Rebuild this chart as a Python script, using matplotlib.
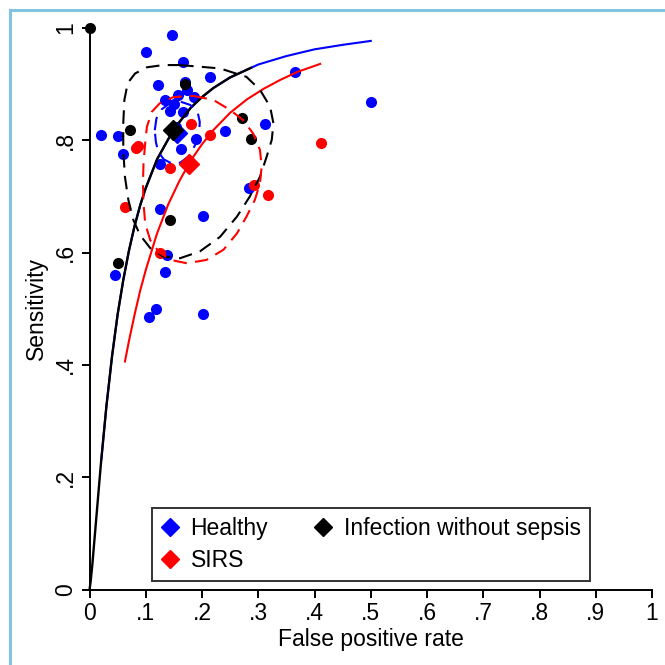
"""
SROC plot: sensitivity vs false positive rate for three groups
"""

import matplotlib
matplotlib.use("Agg")
import matplotlib.pyplot as plt
from matplotlib.lines import Line2D

plt.rcParams['font.family'] = ['Liberation Sans', 'DejaVu Sans']

# study estimates
healthy_fpr = [0.146, 0.100, 0.167, 0.121, 0.170, 0.215, 0.173, 0.135, 0.158, 0.185, 0.150,
               0.143, 0.167, 0.153, 0.189, 0.162, 0.240, 0.312, 0.366, 0.501, 0.021, 0.051,
               0.060, 0.125, 0.125, 0.201, 0.284, 0.137, 0.135, 0.046, 0.119, 0.106, 0.201]
healthy_sens = [0.987, 0.958, 0.940, 0.899, 0.904, 0.913, 0.889, 0.872, 0.880, 0.878, 0.865,
                0.853, 0.850, 0.823, 0.802, 0.785, 0.817, 0.829, 0.921, 0.869, 0.810, 0.808,
                0.776, 0.758, 0.678, 0.666, 0.715, 0.595, 0.566, 0.560, 0.500, 0.486, 0.491]

sirs_fpr = [0.180, 0.215, 0.086, 0.083, 0.143, 0.293, 0.318, 0.411, 0.063, 0.126]
sirs_sens = [0.829, 0.810, 0.789, 0.786, 0.750, 0.720, 0.703, 0.795, 0.681, 0.600]

infect_fpr = [0.0, 0.170, 0.072, 0.271, 0.287, 0.143, 0.051]
infect_sens = [1.0, 0.900, 0.819, 0.840, 0.803, 0.658, 0.582]

# summary points
summary_healthy = (0.156, 0.813)
summary_sirs = (0.176, 0.757)
summary_infect = (0.149, 0.819)

# SROC curves
curve_healthy_x = [0.021, 0.03, 0.04, 0.05, 0.06, 0.07, 0.08, 0.09, 0.10, 0.12, 0.15, 0.18,
                   0.20, 0.22, 0.25, 0.30, 0.35, 0.40, 0.45, 0.50]
curve_healthy_y = [0.232, 0.326, 0.415, 0.490, 0.551, 0.603, 0.647, 0.684, 0.715, 0.766, 0.820,
                   0.858, 0.877, 0.893, 0.912, 0.935, 0.950, 0.962, 0.970, 0.977]

curve_infect_x = [0.0, 0.002, 0.005, 0.01, 0.02, 0.03, 0.04, 0.05, 0.06, 0.07, 0.08, 0.09,
                  0.10, 0.12, 0.15, 0.18, 0.20, 0.22, 0.25, 0.287]
curve_infect_y = [0.0, 0.014, 0.044, 0.103, 0.221, 0.326, 0.415, 0.490, 0.551, 0.603, 0.647,
                  0.684, 0.715, 0.766, 0.820, 0.858, 0.877, 0.893, 0.912, 0.929]

curve_sirs_x = [0.063, 0.07, 0.08, 0.09, 0.10, 0.12, 0.14, 0.16, 0.18, 0.20, 0.22, 0.25,
                0.28, 0.31, 0.34, 0.37, 0.41]
curve_sirs_y = [0.406, 0.442, 0.489, 0.532, 0.569, 0.634, 0.686, 0.728, 0.764, 0.793, 0.818,
                0.849, 0.873, 0.892, 0.908, 0.922, 0.936]

# regions (dashed contours)
region_infect_x = [0.161, 0.232, 0.279, 0.303, 0.321, 0.327, 0.324, 0.315, 0.303, 0.285, 0.262,
                   0.232, 0.196, 0.161, 0.131, 0.108, 0.090, 0.078, 0.069, 0.063, 0.060, 0.060,
                   0.062, 0.068, 0.081, 0.102, 0.131, 0.161]
region_infect_y = [0.934, 0.928, 0.913, 0.890, 0.860, 0.830, 0.801, 0.771, 0.735, 0.700, 0.664,
                   0.628, 0.602, 0.590, 0.593, 0.608, 0.631, 0.658, 0.694, 0.735, 0.783, 0.830,
                   0.872, 0.902, 0.919, 0.930, 0.934, 0.934]

region_sirs_x = [0.185, 0.220, 0.250, 0.273, 0.291, 0.303, 0.306, 0.303, 0.294, 0.279, 0.262,
                 0.238, 0.208, 0.173, 0.149, 0.125, 0.108, 0.099, 0.096, 0.095, 0.096, 0.099,
                 0.102, 0.111, 0.125, 0.149, 0.185]
region_sirs_y = [0.879, 0.872, 0.854, 0.836, 0.812, 0.783, 0.753, 0.723, 0.694, 0.664, 0.634,
                 0.605, 0.587, 0.581, 0.586, 0.599, 0.622, 0.652, 0.688, 0.723, 0.759, 0.795,
                 0.824, 0.851, 0.866, 0.877, 0.879]

region_healthy_x = [0.116, 0.119, 0.128, 0.143, 0.161, 0.179, 0.192, 0.196, 0.195, 0.188, 0.176,
                    0.161, 0.146, 0.132, 0.122, 0.118, 0.116]
region_healthy_y = [0.818, 0.839, 0.855, 0.866, 0.869, 0.863, 0.851, 0.833, 0.812, 0.792, 0.771,
                    0.760, 0.759, 0.766, 0.780, 0.797, 0.818]

xticks = [0, 0.1, 0.2, 0.3, 0.4, 0.5, 0.6, 0.7, 0.8, 0.9, 1]
xtick_labels = ['0', '.1', '.2', '.3', '.4', '.5', '.6', '.7', '.8', '.9', '1']
yticks = [0, 0.2, 0.4, 0.6, 0.8, 1]
ytick_labels = ['0', '.2', '.4', '.6', '.8', '1']

BLUE = '#0000ff'
RED = '#ff0000'
BLACK = '#000000'
FS = 16.5

fig = plt.figure(figsize=(6.65, 6.65), dpi=100)
ax = fig.add_axes([0.1346, 0.1135, 0.8459, 0.8444])

# study points
dot = dict(s=64, linewidths=0, clip_on=False)
ax.scatter(healthy_fpr, healthy_sens, color=BLUE, zorder=3, **dot)
ax.scatter(sirs_fpr, sirs_sens, color=RED, zorder=3, **dot)
ax.scatter(infect_fpr, infect_sens, color=BLACK, zorder=3, **dot)

# SROC curves
ax.plot(curve_healthy_x, curve_healthy_y, color=BLUE, lw=1.5, zorder=4)
ax.plot(curve_sirs_x, curve_sirs_y, color=RED, lw=1.5, zorder=4)
ax.plot(curve_infect_x, curve_infect_y, color=BLACK, lw=1.7, zorder=4, clip_on=False)

# dashed regions
ax.plot(region_infect_x, region_infect_y, color=BLACK, lw=1.5, dashes=(6.5, 4), zorder=5)
ax.plot(region_sirs_x, region_sirs_y, color=RED, lw=1.5, dashes=(6.5, 4), zorder=5)
ax.plot(region_healthy_x, region_healthy_y, color=BLUE, lw=1.5, dashes=(6.5, 4), zorder=5)

# summary points
diam = dict(marker='D', ms=10.5, ls='none', zorder=6)
ax.plot(*summary_healthy, color=BLUE, **diam)
ax.plot(*summary_sirs, color=RED, **diam)
ax.plot(*summary_infect, color=BLACK, **diam)

ax.set_xlim(0, 1)
ax.set_ylim(0, 1)
ax.spines['top'].set_visible(False)
ax.spines['right'].set_visible(False)
ax.spines['left'].set_linewidth(1.4)
ax.spines['bottom'].set_linewidth(1.4)
ax.set_xticks(xticks)
ax.set_xticklabels(xtick_labels, fontsize=FS)
ax.set_yticks(yticks)
ax.set_yticklabels(ytick_labels, fontsize=FS, rotation=90, va='center')
ax.tick_params(length=6, width=1.4, pad=3)
ax.set_xlabel('False positive rate', fontsize=FS, labelpad=2)
ax.set_ylabel('Sensitivity', fontsize=FS, labelpad=4)

handles = [
    Line2D([], [], marker='D', ls='none', color=BLUE, ms=9, label='Healthy'),
    Line2D([], [], marker='D', ls='none', color=RED, ms=9, label='SIRS'),
    Line2D([], [], marker='D', ls='none', color=BLACK, ms=9, label='Infection without sepsis'),
]
leg = ax.legend(handles=handles, ncol=2, loc='lower center', bbox_to_anchor=(0.5, 0.015),
                borderaxespad=0, fontsize=FS, frameon=True, fancybox=False, handlelength=0.8,
                handletextpad=0.5, columnspacing=2.0, borderpad=0.4, labelspacing=0.4)
leg.get_frame().set_edgecolor('black')
leg.get_frame().set_linewidth(1.4)

# light blue frame round the picture
fig.add_artist(Line2D([9.5 / 665, 9.5 / 665], [0, 1 - 9.5 / 665], color='#80c4e2', lw=2.2,
                      transform=fig.transFigure))
fig.add_artist(Line2D([9.5 / 665, 1], [1 - 9.5 / 665, 1 - 9.5 / 665], color='#80c4e2', lw=2.2,
                      transform=fig.transFigure))

fig.savefig('out.png', dpi=100)
